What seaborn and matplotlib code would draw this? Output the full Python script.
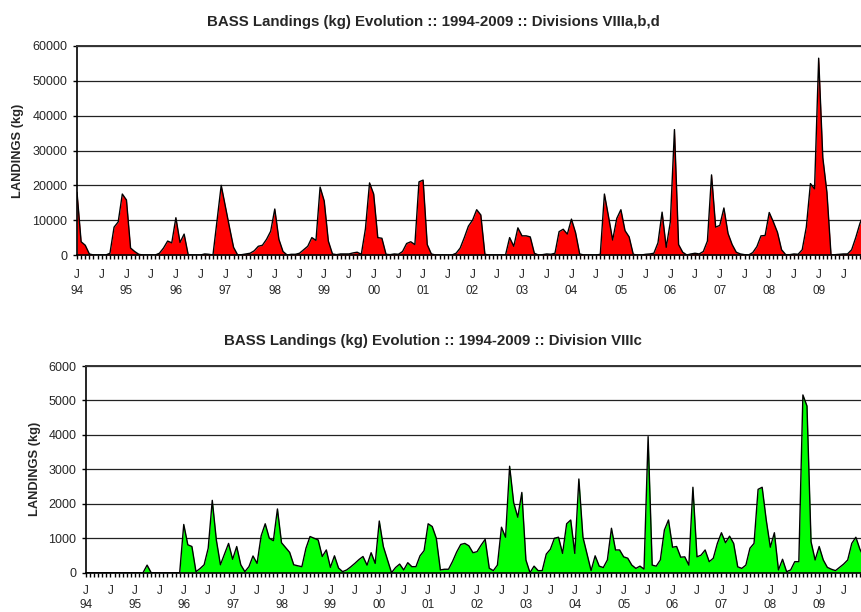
import numpy as np
import matplotlib
matplotlib.use("Agg")
import matplotlib.pyplot as plt
import seaborn as sns

# ---------------- data (monthly, Jan 1994 .. Dec 2009) ----------------
year_labels = ["94", "95", "96", "97", "98", "99", "00", "01",
               "02", "03", "04", "05", "06", "07", "08", "09"]

landings_viiiabd = [
    18000, 3800, 2800, 300, 0, 0, 0, 0, 500, 8000, 9500, 17500,          # 94
    15800, 2000, 1000, 200, 0, 0, 0, 0, 500, 2000, 4000, 3500,          # 95
    10700, 3600, 6000, 0, 0, 0, 0, 300, 200, 0, 10000, 20000,           # 96
    14000, 8000, 2200, 0, 100, 300, 500, 1200, 2500, 2800, 4500, 6800,  # 97
    13200, 4500, 1000, 0, 200, 200, 500, 1500, 2500, 5000, 4200, 19500, # 98
    15500, 4000, 300, 100, 300, 300, 300, 600, 800, 200, 7500, 20700,   # 99
    17500, 5000, 4800, 200, 100, 300, 200, 1000, 3300, 3800, 3000, 21000,  # 00
    21500, 3000, 300, 0, 0, 0, 0, 0, 500, 2000, 5000, 8300,             # 01
    10000, 13000, 11500, 200, 0, 0, 0, 0, 0, 5000, 2500, 7800,          # 02
    5500, 5500, 5200, 500, 0, 100, 300, 200, 500, 6700, 7400, 6000,     # 03
    10300, 6400, 300, 0, 0, 0, 0, 200, 17500, 11000, 4300, 10500,       # 04
    13000, 7000, 5200, 200, 0, 0, 200, 300, 500, 3500, 12300, 2200,     # 05
    9500, 36000, 3000, 800, 0, 300, 500, 300, 1000, 4000, 23000, 8000,  # 06
    8500, 13500, 6200, 3000, 800, 300, 100, 0, 700, 2400, 5500, 5600,   # 07
    12200, 9500, 6500, 1500, 100, 100, 300, 200, 1500, 8000, 20500, 19000,  # 08
    56500, 28000, 18000, 0, 100, 200, 300, 300, 1500, 5000, 9000, 12000,   # 09
]

landings_viiic = [
    0, 0, 0, 0, 0, 0, 0, 0, 0, 0, 0, 0,                                 # 94
    0, 0, 0, 220, 0, 0, 0, 0, 0, 0, 0, 0,                               # 95
    1400, 810, 760, 30, 120, 230, 710, 2100, 950, 230, 540, 850,        # 96
    390, 760, 230, 30, 175, 485, 270, 1070, 1420, 1000, 930, 1850,      # 97
    870, 730, 590, 230, 200, 175, 710, 1050, 1000, 950, 470, 660,       # 98
    155, 490, 135, 30, 80, 170, 270, 380, 470, 220, 580, 270,           # 99
    1500, 760, 380, 0, 150, 250, 80, 290, 175, 175, 490, 640,           # 00
    1420, 1340, 1000, 80, 100, 100, 330, 600, 820, 850, 780, 580,       # 01
    610, 800, 970, 130, 60, 220, 1320, 1030, 3090, 2030, 1610, 2330,    # 02
    370, 0, 190, 60, 60, 540, 680, 1000, 1030, 560, 1420, 1530,         # 03
    560, 2720, 1030, 550, 60, 490, 190, 150, 370, 1290, 660, 660,       # 04
    460, 420, 220, 125, 190, 105, 3950, 220, 190, 370, 1240, 1530,      # 05
    740, 760, 450, 460, 220, 2480, 460, 510, 660, 320, 420, 850,        # 06
    1160, 870, 1060, 850, 170, 125, 220, 710, 850, 2420, 2480, 1530,    # 07
    740, 1160, 80, 390, 30, 80, 320, 320, 5160, 4840, 900, 370,         # 08
    760, 370, 155, 100, 60, 155, 250, 370, 850, 1030, 680, 450,         # 09
]

titles = [
    "BASS Landings (kg) Evolution :: 1994-2009 :: Divisions VIIIa,b,d",
    "BASS Landings (kg) Evolution :: 1994-2009 :: Division VIIIc",
]
y_label = "LANDINGS (kg)"

# ---------------- style ----------------
sns.set_style("white")
plt.rcParams["font.family"] = ["Liberation Sans", "DejaVu Sans"]

W, H = 861, 612
fig = plt.figure(figsize=(W / 100, H / 100), dpi=100)

months = np.arange(len(landings_viiiabd))
n = len(months)


def panel(rect, values, color, ymax, step, ylabel_x, xpad, lsp):
    ax = fig.add_axes(rect)
    ax.fill_between(months, 0, values, color=color, lw=0, zorder=2)
    sns.lineplot(x=months, y=values, ax=ax, color="black", lw=1.0,
                 zorder=3, legend=False)
    ax.set_xlim(0, n - 1)
    ax.set_ylim(0, ymax)
    ax.set_yticks(np.arange(0, ymax + 1, step))
    ax.set_yticklabels([f"{v:d}" for v in range(0, ymax + 1, step)],
                       fontsize=9)
    ax.yaxis.grid(True, color="#222222", lw=0.9)
    ax.xaxis.grid(False)
    ax.set_axisbelow(True)
    ax.spines["right"].set_visible(False)
    ax.spines["top"].set_color("#333333")
    ax.spines["top"].set_linewidth(1.4)
    for s in ["left", "bottom"]:
        ax.spines[s].set_color("black")
        ax.spines[s].set_linewidth(1.2)
    major = list(range(0, n, 6))
    labels = [f"J\n{year_labels[i // 12]}" if i % 12 == 0 else "J"
              for i in major]
    ax.set_xticks(major)
    ax.set_xticklabels(labels, fontsize=8.5, linespacing=lsp, va="top")
    ax.set_xticks(range(n), minor=True)
    ax.tick_params(axis="x", which="both", direction="out", length=3,
                   width=1, color="black", bottom=True, pad=xpad)
    ax.tick_params(axis="y", which="major", direction="out", length=3,
                   width=1, color="black", left=True, pad=4)
    ax.set_xlabel("")
    ax.set_ylabel(y_label, fontsize=9.3, fontweight="bold")
    ax.yaxis.set_label_coords(ylabel_x, 0.5)
    return ax


ax1 = panel([77 / W, 1 - 255 / H, 787 / W, 209 / H], landings_viiiabd,
            "#ff0000", 60000, 10000, (24 - 77) / 787, 7.3, 1.45)
ax2 = panel([86 / W, 1 - 572.7 / H, 778 / W, 206.7 / H], landings_viiic,
            "#00ff00", 6000, 1000, (41 - 86) / 778, 6.0, 1.25)

fig.text(433 / W, 1 - 22 / H, titles[0], ha="center", va="center",
         fontsize=10.8, fontweight="bold")
fig.text(433 / W, 1 - 341 / H, titles[1], ha="center", va="center",
         fontsize=10.8, fontweight="bold")

fig.savefig("out.png", dpi=100, facecolor="white")
